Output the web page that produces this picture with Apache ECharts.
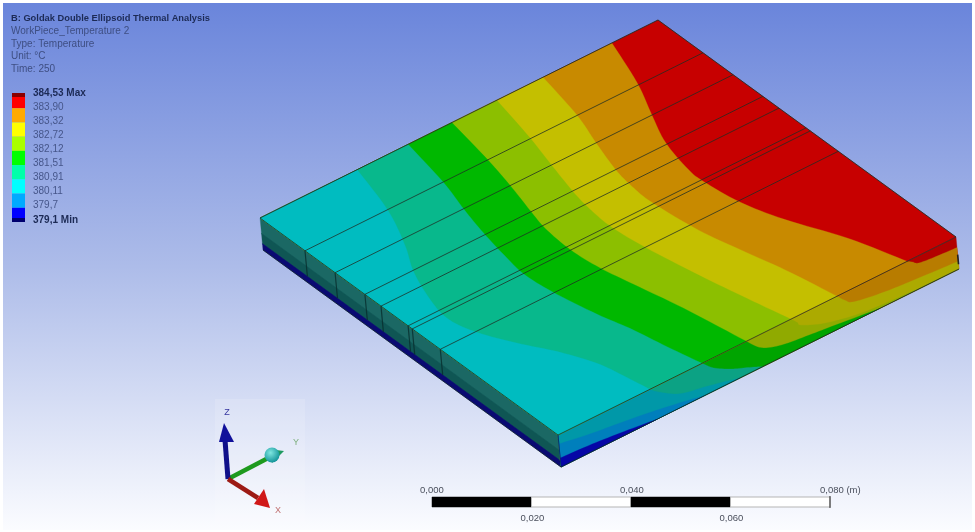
<!DOCTYPE html>
<html><head><meta charset="utf-8">
<style>html,body{margin:0;padding:0;background:#fff}#c{width:975px;height:532px;filter:blur(0.7px)}</style>
<script src="https://cdn.jsdelivr.net/npm/echarts@6/dist/echarts.min.js"></script>
</head><body><div id="c"></div>
<script>
// ---------- values ----------
const titleLines = ['B: Goldak Double Ellipsoid Thermal Analysis','WorkPiece_Temperature 2','Type: Temperature','Unit: °C','Time: 250'];
const legendLabels = ['384,53 Max','383,90','383,32','382,72','382,12','381,51','380,91','380,11','379,7','379,1 Min'];
const scaleTicks = [0, 0.02, 0.04, 0.06, 0.08];
const scaleLabels = ['0,000','0,020','0,040','0,060','0,080 (m)'];
// layer seams along the plate (fraction of plate width)
const seams = [0.151, 0.252, 0.352, 0.406, 0.497, 0.511, 0.605];
// isotherms on the top face: [fraction along length u, fraction across width v]
const iso38390 = [[.884,0],[.84,.144],[.796,.252],[.76,.346],[.739,.45],[.737,.505],[.749,.61],[.78,.718],[.836,.856],[.877,1]];
const iso38332 = [[.711,0],[.684,.15],[.655,.254],[.63,.352],[.62,.42],[.617,.493],[.63,.632],[.652,.741],[.678,.86],[.701,1]];
const iso38272 = [[.595,0],[.567,.149],[.542,.259],[.52,.361],[.51,.43],[.506,.505],[.515,.607],[.538,.755],[.562,.884],[.585,1]];
const iso38212 = [[.482,0],[.459,.152],[.438,.261],[.416,.358],[.404,.42],[.398,.51],[.405,.6],[.422,.693],[.447,.823],[.473,1]];
const iso38151 = [[.372,0],[.347,.151],[.322,.255],[.303,.345],[.287,.443],[.279,.514],[.285,.6],[.306,.723],[.326,.806],[.344,.908],[.362,1]];
const iso38091 = [[.244,0],[.207,.152],[.161,.271],[.118,.359],[.084,.466],[.074,.538],[.09,.61],[.127,.692],[.172,.775],[.206,.86],[.219,.926],[.231,1]];
// isotherms on the side face: [fraction along length s, fraction of depth t]
const side38390 = [[.877,0],[.89,.1],[.904,.22],[.942,.28],[1,.33]];
const side38332 = [[.701,0],[.72,.25],[.741,.42],[.817,.58],[.91,.68],[1,.76]];
const side38272 = [[.585,0],[.60,.2],[.608,.33],[.666,.63],[.759,.87],[.88,.97],[1,1]];
const side38212 = [[.473,0],[.508,.42],[.558,.64],[.626,.75],[.691,.84],[.80,1]];
const side38151 = [[.362,0],[.389,.31],[.43,.60],[.47,.80],[.507,1]];
const side38091 = [[.231,0],[.25,.2],[.302,.58],[.369,.76],[.45,1]];
const side38011 = [[0,.28],[.08,.45],[.15,.56],[.22,.68],[.30,.85],[.36,1]];
const side3797  = [[0,.72],[.08,.78],[.16,.88],[.24,1]];

const topIsotherms  = [iso38390, iso38332, iso38272, iso38212, iso38151, iso38091];
const sideIsotherms = [side38390, side38332, side38272, side38212, side38151, side38091, side38011, side3797];

// ---------- styles ----------
const topColors  = ['#c70000','#c88a00','#c4bf00','#8cbf00','#00b800','#08b88c','#00bcc0'];
const sideColors = ['#b30000','#b87c00','#acaa00','#90aa00','#00a400','#0ca284','#0098a8','#007fbc','#0606a6'];
const legendColors = ['#ff0000','#ffaa00','#ffff00','#aaff00','#00ff00','#00ffaa','#00ffff','#00aaff','#0000ff'];
const lineColor = 'rgba(30,45,35,0.85)';
const L=[260,218], U=[398,-198], V=[298,217], D=[3,32];
const project=(u,v,t)=>[L[0]+u*U[0]+v*V[0]+t*D[0], L[1]+u*U[1]+v*V[1]+t*D[1]];

// smooth a traced curve for drawing
function dense(p){
  const o=[];
  for(let i=0;i<p.length-1;i++){
    const a=p[Math.max(i-1,0)],b=p[i],c=p[i+1],d=p[Math.min(i+2,p.length-1)];
    for(let k=0;k<8;k++){
      const s=k/8,s2=s*s,s3=s2*s;
      o.push([0,1].map(j=>0.5*(2*b[j]+(c[j]-a[j])*s+(2*a[j]-5*b[j]+4*c[j]-d[j])*s2+(3*b[j]-a[j]-3*c[j]+d[j])*s3)));
    }
  }
  o.push(p[p.length-1]);
  return o;
}
const poly=(api,pts,fill)=>({type:'polygon',shape:{points:pts.map(p=>api.coord(p))},style:{fill,stroke:fill,lineWidth:.3}});
const line=(api,pts,w,col)=>({type:'polyline',shape:{points:pts.map(p=>api.coord(p))},style:{stroke:col||lineColor,lineWidth:w||1,fill:'none'}});

function renderTop(params,api){
  const i=api.value(0);
  if(i===0) return poly(api,[project(0,0,0),project(1,0,0),project(1,1,0),project(0,1,0)],topColors[0]);
  const c=dense(topIsotherms[i-1]).map(p=>project(p[0],p[1],0));
  return poly(api,[project(0,0,0),...c,project(0,1,0)],topColors[i]);
}
function renderSide(params,api){
  const i=api.value(0);
  if(i===0) return poly(api,[project(0,1,0),project(1,1,0),project(1,1,1),project(0,1,1)],sideColors[0]);
  const cur=sideIsotherms[i-1], last=cur[cur.length-1];
  const c=dense(cur).map(p=>project(p[0],1,p[1]));
  const tail=last[1]<1?[project(1,1,1)]:[];
  return poly(api,[project(0,1,0),...c,...tail,project(0,1,1)],sideColors[i]);
}
const frontLayers=[[0,.5,'#1b6864'],[.48,.82,'#0f5654'],[.8,1,'#0a0a72']];
function renderFront(params,api){
  const l=frontLayers[api.value(0)];
  return poly(api,[project(0,0,l[0]),project(0,1,l[0]),project(0,1,l[1]),project(0,0,l[1])],l[2]);
}
function renderSeam(params,api){
  const v=api.value(0);
  return {type:'group',children:[
    line(api,[project(0,v,0),project(1,v,0)],.9),
    line(api,[project(0,v,0),project(0,v,.8)],1.2,'rgba(8,45,45,.8)')
  ]};
}
function renderEdges(params,api){
  return {type:'group',children:[
    line(api,[project(0,0,0),project(1,0,0),project(1,1,0)],1),
    line(api,[project(0,0,0),project(0,1,0),project(1,1,0)],.9),
    line(api,[project(0,1,0),project(0,1,1)],.8,'rgba(8,40,60,.7)'),
    line(api,[project(0,0,1),project(0,1,1),project(1,1,1)],1,'rgba(10,30,40,.8)'),
    line(api,[project(1,1,.55),project(1,1,.85)],1.6,'#222')
  ]};
}
function renderScale(params,api){
  const i=api.value(0);
  const a=api.coord([scaleTicks[i],0]), b=api.coord([scaleTicks[i+1],1]);
  return {type:'rect',shape:{x:a[0],y:b[1],width:b[0]-a[0],height:a[1]-b[1]},
    style:i%2?{fill:'#fff',stroke:'#b5b5b5',lineWidth:1}:{fill:'#000',stroke:'#000',lineWidth:.5}};
}
const hidden=i=>({show:false,gridIndex:i});
const fontF='"Liberation Sans",Arial,sans-serif';
const txt=(x,y,s,o)=>({type:'text',x,y,silent:true,z:50,style:Object.assign({text:s,fontFamily:fontF,fontSize:10,fill:'#3f4f80',textVerticalAlign:'middle',verticalAlign:'middle'},o||{})});

const graphics=[
  {type:'rect',z:-10,shape:{x:3,y:3,width:969,height:527},silent:true,
   style:{fill:new echarts.graphic.LinearGradient(0,0,0,1,[{offset:0,color:'#6a85db'},{offset:.5,color:'#adbce9'},{offset:1,color:'#fbfcff'}])}},
  {type:'rect',z:-9,shape:{x:215,y:399,width:90,height:130},silent:true,style:{fill:'rgba(255,255,255,.14)'}},
  // triad
  {type:'line',z:30,shape:{x1:228,y1:479,x2:225,y2:440},style:{stroke:'#10108a',lineWidth:5}},
  {type:'polygon',z:30,shape:{points:[[224,423],[234,442],[219,442]]},style:{fill:'#10109a'}},
  {type:'line',z:29,shape:{x1:228,y1:479,x2:272,y2:456},style:{stroke:'#1e9a1e',lineWidth:4.5}},
  {type:'polygon',z:30,shape:{points:[[284,451],[272,463],[268,449]]},style:{fill:'#1e9a60'}},
  {type:'circle',z:31,shape:{cx:272,cy:455,r:7.5},style:{fill:new echarts.graphic.RadialGradient(.4,.35,.7,[{offset:0,color:'#7fe6e0'},{offset:1,color:'#0c8f95'}])}},
  {type:'line',z:30,shape:{x1:228,y1:479,x2:258,y2:498},style:{stroke:'#9c1a14',lineWidth:4.5}},
  {type:'polygon',z:31,shape:{points:[[270,508],[254,504],[264,489]]},style:{fill:'#d01818'}},
  txt(227,413,'Z',{fill:'#3535a0',textAlign:'center',align:'center',fontSize:9}),
  txt(296,443,'Y',{fill:'#7fb07f',textAlign:'center',align:'center',fontSize:9}),
  txt(278,511,'X',{fill:'#c07070',textAlign:'center',align:'center',fontSize:9}),
  // legend dark ends
  {type:'rect',z:20,shape:{x:12,y:93,width:13,height:4},style:{fill:'#8a0000'}},
  {type:'rect',z:20,shape:{x:12,y:218,width:13,height:4},style:{fill:'#00006e'}}
];
const titleY=[18,31,44,56,69];
titleLines.forEach((s,i)=>graphics.push(txt(11,titleY[i],s,i===0?{fontWeight:'bold',fill:'#1c2a55',fontSize:9.3}:{fill:'#3e4e82'})));
const legendY=[93,107,121,135,149,163,177,191,205,220];
legendLabels.forEach((s,i)=>{
  const bold=i===0||i===legendLabels.length-1;
  graphics.push(txt(33,legendY[i],s,bold?{fontWeight:'bold',fill:'#1c2a55'}:{fill:'#46568a'}));
});
const sx=v=>432+v/0.08*398;
scaleLabels.forEach((s,i)=>{
  const x=i===4?820:(i===0?420:sx(scaleTicks[i])-11);
  graphics.push(txt(x,i%2?518:490,s,{fill:'#4a4f5c',fontSize:9.5}));
});
graphics.push({type:'line',z:20,shape:{x1:830,y1:496,x2:830,y2:508},style:{stroke:'#222',lineWidth:1}});

const chart=echarts.init(document.getElementById('c'),null,{renderer:'canvas'});
const idx=n=>Array.from({length:n},(_,i)=>[i]);
chart.setOption({
  animation:false,
  backgroundColor:'#fff',
  grid:[
    {left:0,top:0,width:975,height:532},
    {left:12,top:94,width:13,height:128},
    {left:432,top:497,width:398,height:10}
  ],
  xAxis:[
    {type:'value',min:0,max:975,...hidden(0)},
    {type:'value',min:0,max:1,...hidden(1)},
    {type:'value',min:0,max:0.08,...hidden(2)}
  ],
  yAxis:[
    {type:'value',min:0,max:532,inverse:true,...hidden(0)},
    {type:'category',inverse:true,data:legendLabels.slice(0,9),...hidden(1)},
    {type:'value',min:0,max:1,...hidden(2)}
  ],
  graphic:graphics,
  series:[
    {type:'custom',name:'front',silent:true,clip:false,data:idx(frontLayers.length),encode:{x:0},renderItem:renderFront,z:2},
    {type:'custom',name:'side',silent:true,clip:false,data:idx(sideColors.length),encode:{x:0},renderItem:renderSide,z:3},
    {type:'custom',name:'top',silent:true,clip:false,data:idx(topColors.length),encode:{x:0},renderItem:renderTop,z:4},
    {type:'custom',name:'seams',silent:true,clip:false,data:seams.map(v=>[v]),encode:{x:0},renderItem:renderSeam,z:5},
    {type:'custom',name:'edges',silent:true,clip:false,data:[[0]],encode:{x:0},renderItem:renderEdges,z:6},
    {type:'bar',name:'legend',silent:true,xAxisIndex:1,yAxisIndex:1,barWidth:'100%',z:10,
     data:legendColors.map(c=>({value:1,itemStyle:{color:c}}))},
    {type:'custom',name:'scale',silent:true,clip:false,xAxisIndex:2,yAxisIndex:2,data:idx(scaleTicks.length-1),encode:{x:0},renderItem:renderScale,z:10}
  ]
});
</script></body></html>
